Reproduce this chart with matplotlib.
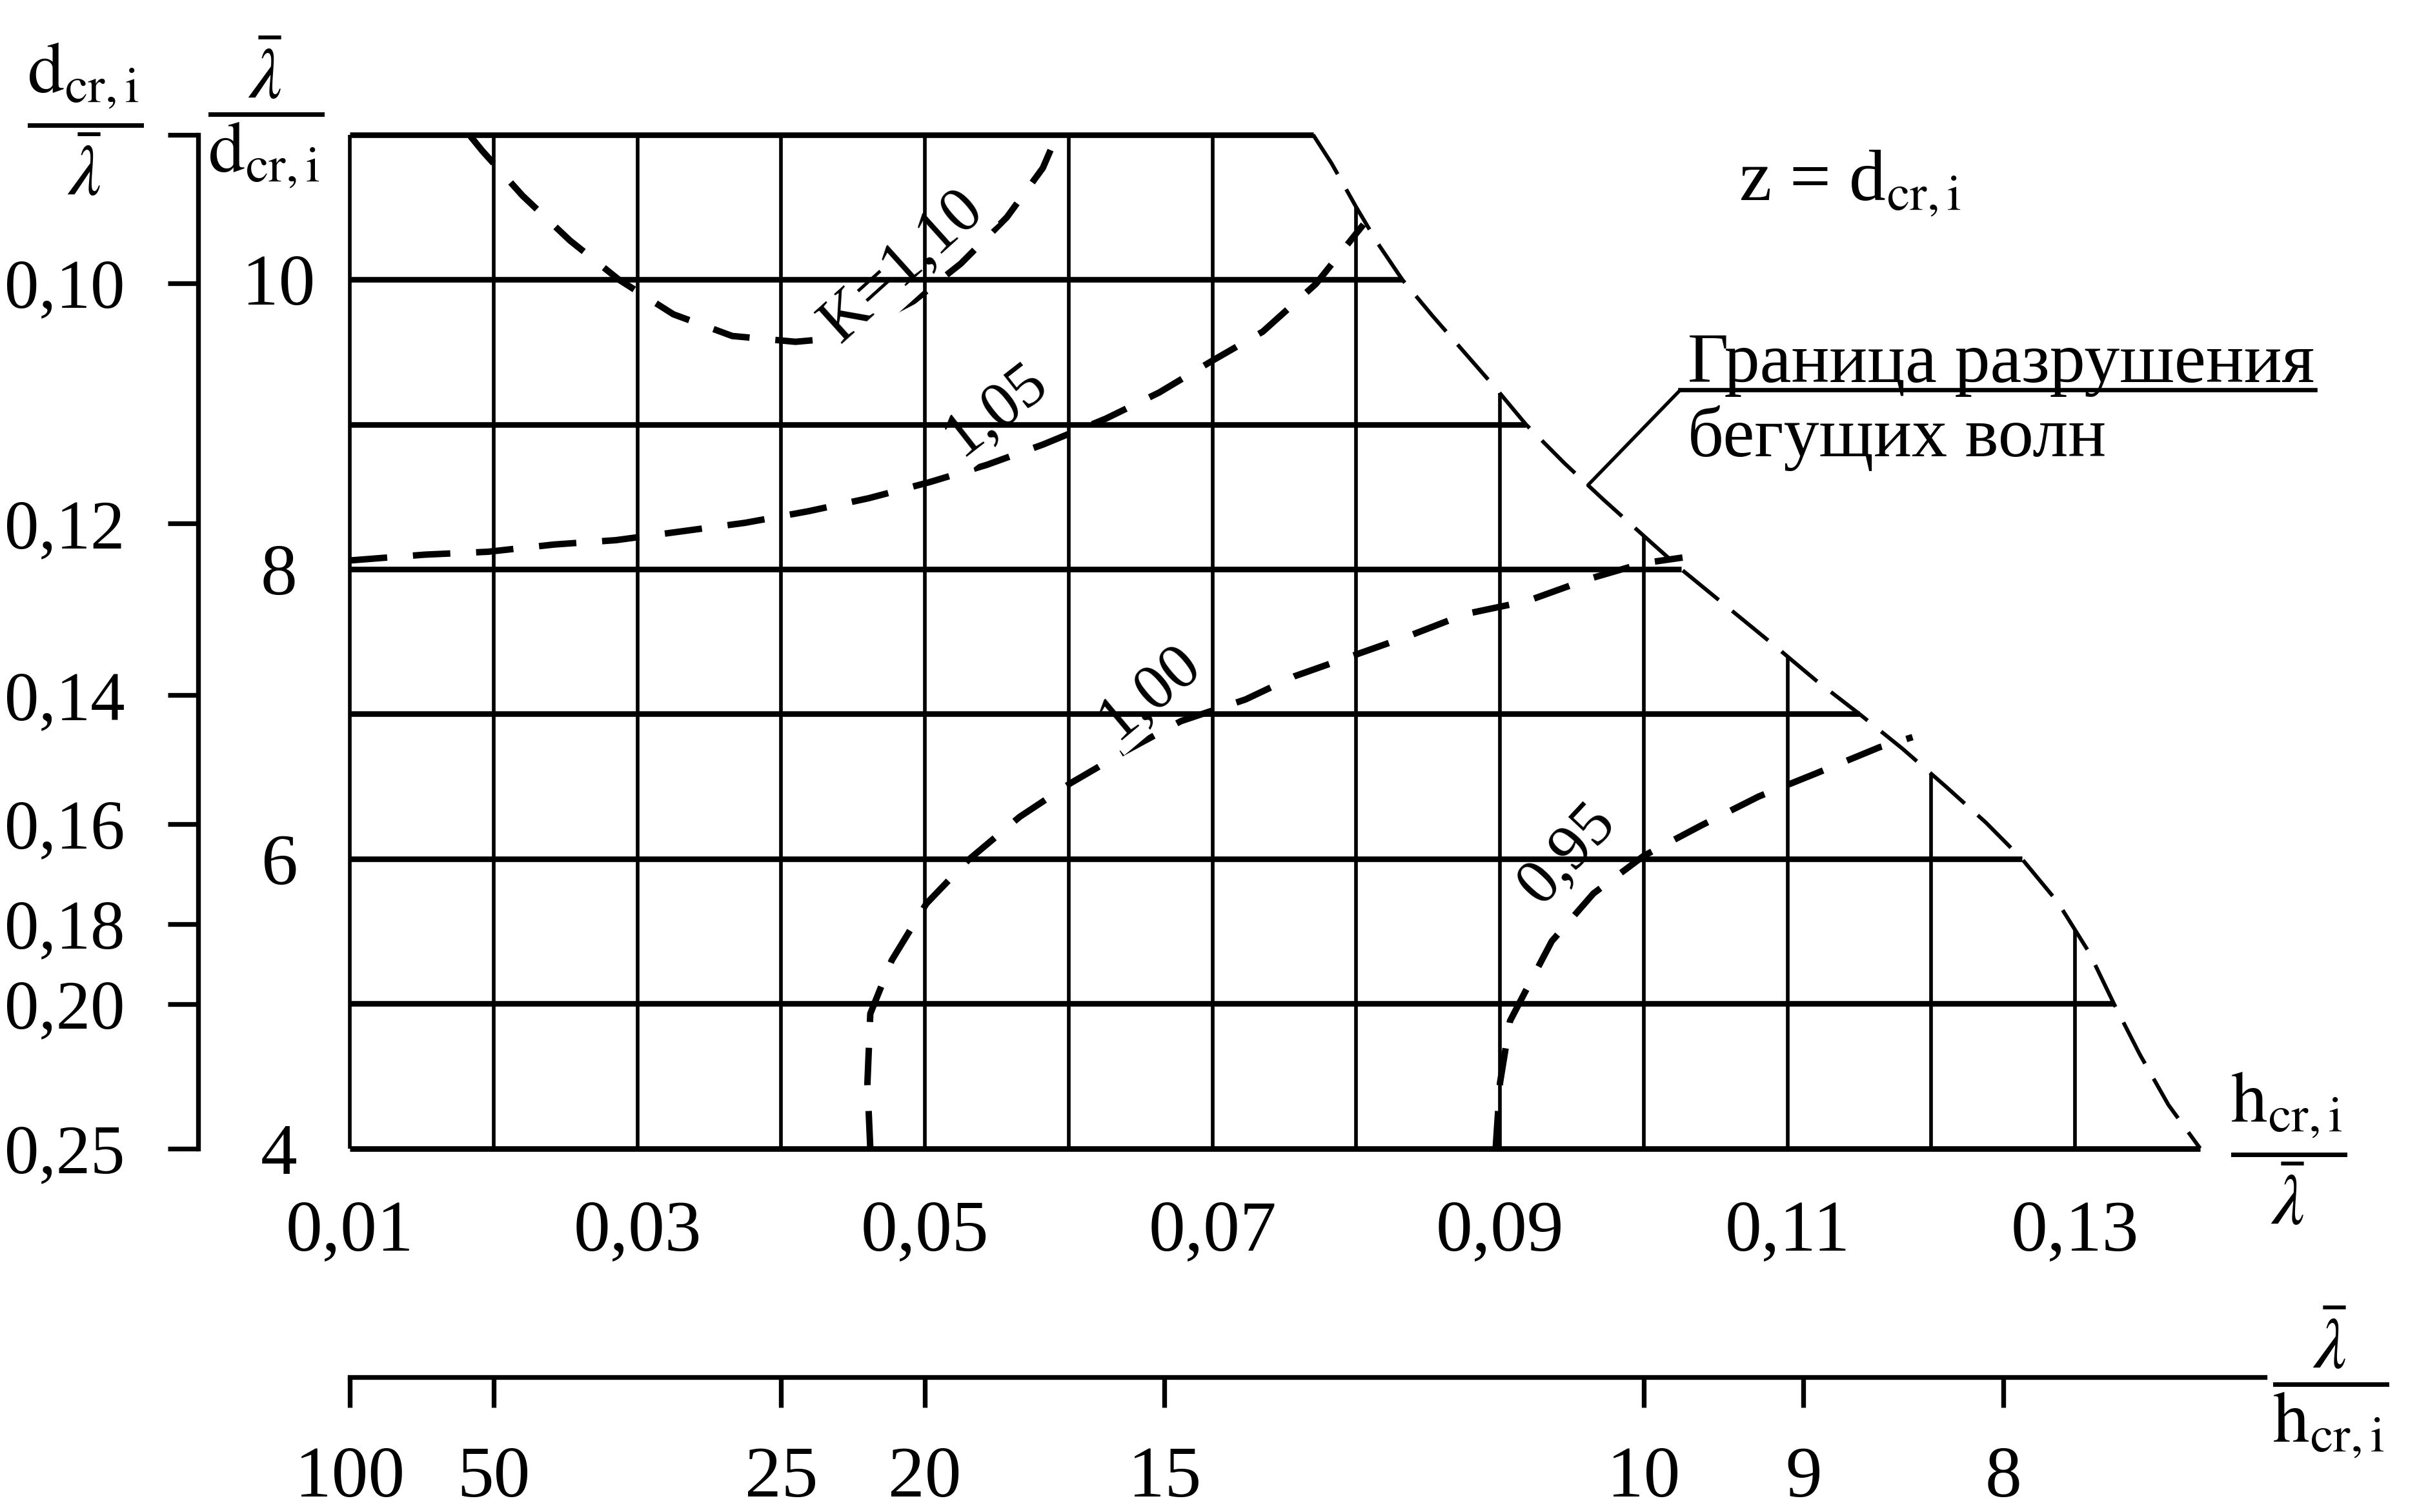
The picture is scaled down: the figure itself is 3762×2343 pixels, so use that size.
import numpy as np
import matplotlib as mpl

mpl.use('Agg')
import matplotlib.pyplot as plt
from matplotlib.lines import Line2D

plt.rcParams['font.family'] = ['Liberation Serif', 'DejaVu Serif']
plt.rcParams['mathtext.fontset'] = 'stix'

# grid of the nomogram: h/lambda on x, lambda/d on y
h_grid = np.round(np.arange(0.01, 0.135, 0.01), 2)
ld_grid = np.arange(4, 12)

# breaking boundary of progressive waves
bound_x = [0.0770, 0.0783, 0.0800, 0.0815, 0.0832, 0.0853, 0.0875, 0.0897, 0.0918,
           0.0945, 0.0972, 0.1000, 0.1026, 0.1058, 0.1090, 0.1120, 0.1150, 0.1180,
           0.1210, 0.1238, 0.1263, 0.1288, 0.1310, 0.1327, 0.1345, 0.1365, 0.1387]
bound_y = [11.0, 10.8, 10.5, 10.25, 10.0, 9.75, 9.5, 9.25, 9.0,
           8.73, 8.48, 8.23, 8.0, 7.74, 7.48, 7.23, 7.0, 6.76,
           6.5, 6.25, 6.0, 5.7, 5.35, 5.0, 4.65, 4.3, 4.0]

# K = 1,10
k110_x = [0.0183, 0.0192, 0.0220, 0.0253, 0.0287, 0.0325, 0.0366, 0.0410, 0.0444,
          0.0492, 0.0525, 0.0557, 0.0582, 0.0592]
k110_y = [11.0, 10.89, 10.58, 10.27, 10.00, 9.76, 9.61, 9.57, 9.60,
          9.85, 10.11, 10.43, 10.77, 11.0]
# K = 1,05
k105_x = [0.0100, 0.0152, 0.0196, 0.0242, 0.0285, 0.0330, 0.0375, 0.0419, 0.0461,
          0.0503, 0.0543, 0.0582, 0.0626, 0.0663, 0.0700, 0.0735, 0.0772, 0.0805]
k105_y = [8.06, 8.10, 8.12, 8.17, 8.20, 8.26, 8.32, 8.40, 8.49,
          8.60, 8.72, 8.86, 9.04, 9.22, 9.44, 9.64, 9.97, 10.38]
# K = 1,00
k100_x = [0.0462, 0.0460, 0.0462, 0.0477, 0.0501, 0.0530, 0.0566, 0.0601, 0.0639,
          0.0678, 0.0723, 0.0757, 0.0797, 0.0837, 0.0876, 0.0919, 0.0961, 0.0999, 0.1027]
k100_y = [4.00, 4.45, 4.93, 5.30, 5.69, 5.99, 6.29, 6.52, 6.74,
          6.95, 7.10, 7.26, 7.40, 7.54, 7.69, 7.78, 7.93, 8.04, 8.08]
# K = 0,95
k095_x = [0.0897, 0.0900, 0.0907, 0.0918, 0.0936, 0.0965, 0.1000, 0.1040, 0.1080,
          0.1120, 0.1164, 0.1187]
k095_y = [4.00, 4.45, 4.88, 5.09, 5.43, 5.76, 6.02, 6.23, 6.43,
          6.59, 6.77, 6.84]

curve_labels = ['K=1,10', '1,05', '1,00', '0,95']
label_x = [0.0484, 0.0549, 0.0656, 0.0947]
label_y = [10.09, 9.10, 7.15, 6.03]
label_rot = [42, 38, 40, 47]

hl_ticks = [0.01, 0.03, 0.05, 0.07, 0.09, 0.11, 0.13]
ld_ticks = [4, 6, 8, 10]
dl_ticks = [0.10, 0.12, 0.14, 0.16, 0.18, 0.20, 0.25]
lh_ticks = [100, 50, 25, 20, 15, 10, 9, 8]


def comma(v):
    return f"{v:.2f}".replace('.', ',')


fig = plt.figure(figsize=(3762 / 240, 2343 / 240), dpi=240)

S = 0.05921   # figure width of 0.01 in h/lambda
X0, Y0, H = 0.1441, 0.2405, 0.6704

ax = fig.add_axes([X0, Y0, S * 14, H])
ax.set_xlim(0.01, 0.15)
ax.set_ylim(4, 11)
for sp in ax.spines.values():
    sp.set_visible(False)
ax.patch.set_visible(False)

# grid clipped by the boundary (drawn above the curve labels)
by_up = np.array(bound_y)[::-1]
bx_up = np.array(bound_x)[::-1]
for y in ld_grid:
    xe = np.interp(y, by_up, bx_up)
    ax.plot([0.01, xe], [y, y], color='k', lw=2.6, clip_on=False,
            solid_capstyle='butt', zorder=4)
for x in h_grid:
    ye = min(11, np.interp(x, bound_x, bound_y))
    ax.plot([x, x], [4, ye], color='k', lw=1.7, clip_on=False,
            solid_capstyle='butt', zorder=4)

ax.plot(bound_x, bound_y, color='k', lw=1.8, dashes=(12, 4.5), clip_on=False, zorder=2)
for cx, cy in [(k110_x, k110_y), (k105_x, k105_y), (k100_x, k100_y), (k095_x, k095_y)]:
    ax.plot(cx, cy, color='k', lw=3.0, dashes=(5.8, 4.0), clip_on=False, zorder=2)

for t, x, y, r in zip(curve_labels, label_x, label_y, label_rot):
    ax.text(x, y, t, fontsize=30, rotation=r, ha='center', va='center',
            rotation_mode='anchor', zorder=3,
            bbox=dict(boxstyle='square,pad=0.05', fc='white', ec='none'))

ax.set_xticks(hl_ticks, [comma(v) for v in hl_ticks])
ax.set_yticks(ld_ticks, [str(v) for v in ld_ticks])
ax.tick_params(axis='x', length=0, pad=24, labelsize=34)
ax.tick_params(axis='y', length=0, pad=33, labelsize=34)
for lbl in ax.get_yticklabels():
    lbl.set_ha('center')

# left reciprocal scale d/lambda
axl = fig.add_axes([0.0816, Y0, 0.0001, H])
axl.set_ylim(4, 11)
for k in ['top', 'right', 'bottom']:
    axl.spines[k].set_visible(False)
axl.spines['left'].set_linewidth(2.2)
axl.spines['left'].set_bounds(4, 11.03)
axl.set_xticks([])
axl.set_yticks(list(1 / np.array(dl_ticks)) + [11.03],
               [comma(v) for v in dl_ticks] + [''])
axl.tick_params(axis='y', direction='out', length=14, width=2.2, pad=20, labelsize=32)
axl.patch.set_visible(False)

# bottom reciprocal scale lambda/h
axb = fig.add_axes([X0, 0.0891, S * 14, 0.0001])
axb.set_xlim(0.01, 0.15)
for k in ['top', 'right', 'left']:
    axb.spines[k].set_visible(False)
axb.spines['bottom'].set_linewidth(2.2)
axb.spines['bottom'].set_bounds(0.01, 0.1432)
axb.set_yticks([])
axb.set_xticks(1 / np.array(lh_ticks, dtype=float), [str(v) for v in lh_ticks])
axb.tick_params(axis='x', direction='out', length=14, width=2.2, pad=18, labelsize=34)
axb.patch.set_visible(False)

# axis titles as fractions
fig.text(0.0351, 0.921, r'$\dfrac{\mathrm{d}_{\mathrm{cr,i}}}{\bar{\lambda}}$',
         fontsize=34, ha='center', va='center')
fig.text(0.1097, 0.926, r'$\dfrac{\bar{\lambda}}{\mathrm{d}_{\mathrm{cr,i}}}$',
         fontsize=34, ha='center', va='center')
fig.text(0.9426, 0.2405, r'$\dfrac{\mathrm{h}_{\mathrm{cr,i}}}{\bar{\lambda}}$',
         fontsize=34, ha='center', va='center')
fig.text(0.9598, 0.086, r'$\dfrac{\bar{\lambda}}{\mathrm{h}_{\mathrm{cr,i}}}$',
         fontsize=34, ha='center', va='center')

fig.text(0.762, 0.879, r'z = d$_{\mathrm{cr,i}}$', fontsize=34, ha='center', va='center')

# boundary caption with underline and leader
fig.text(0.695, 0.7472, 'Граница разрушения', fontsize=33, ha='left', va='baseline')
fig.text(0.695, 0.710, 'бегущих волн', fontsize=33, ha='left', va='center')
fig.add_artist(Line2D([0.692, 0.9535], [0.742, 0.742], color='k', lw=2.0,
                      transform=fig.transFigure))
ly = 8.58
lx = np.interp(ly, by_up, bx_up)
ax.annotate('', xy=(lx, ly), xytext=(0.692, 0.742), textcoords='figure fraction',
            arrowprops=dict(arrowstyle='-', lw=1.6, color='k', shrinkA=0, shrinkB=0))

plt.savefig('out.png', dpi=240)
